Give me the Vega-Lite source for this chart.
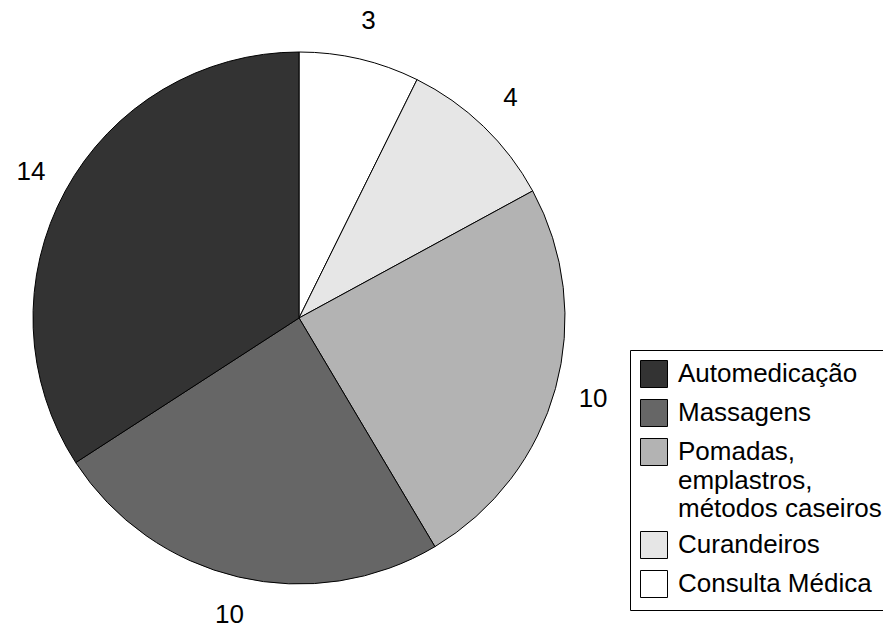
{
  "$schema": "https://vega.github.io/schema/vega-lite/v6.json",
  "autosize": {"type": "none"},
  "width": 598,
  "height": 636,
  "padding": {"left": 0, "top": 0, "right": 285, "bottom": 0},
  "background": "white",
  "config": {"view": {"stroke": null}, "font": "Liberation Sans"},
  "data": {
    "values": [
      {"cat": "Consulta Médica", "n": 3, "ord": 1},
      {"cat": "Curandeiros", "n": 4, "ord": 2},
      {"cat": "Pomadas, emplastros, métodos caseiros", "n": 10, "ord": 3},
      {"cat": "Massagens", "n": 10, "ord": 4},
      {"cat": "Automedicação", "n": 14, "ord": 5}
    ]
  },
  "encoding": {
    "theta": {"field": "n", "type": "quantitative", "stack": true},
    "order": {"field": "ord", "type": "quantitative"}
  },
  "layer": [
    {
      "mark": {"type": "arc", "radius": 266, "stroke": "black", "strokeWidth": 1},
      "encoding": {
        "color": {
          "field": "cat",
          "type": "nominal",
          "scale": {
            "domain": ["Automedicação", "Massagens", "Pomadas, emplastros, métodos caseiros", "Curandeiros", "Consulta Médica"],
            "range": ["#333333", "#666666", "#b3b3b3", "#e6e6e6", "#ffffff"]
          },
          "legend": {
            "title": null,
            "orient": "none",
            "legendX": 630,
            "legendY": 350,
            "padding": 10,
            "strokeColor": "black",
            "fillColor": "white",
            "symbolType": "square",
            "symbolSize": 729,
            "symbolStrokeColor": "black",
            "symbolStrokeWidth": 1,
            "labelFontSize": 26,
            "labelColor": "black",
            "labelOffset": 10,
            "labelLimit": 400,
            "rowPadding": 7,
            "labelExpr": "datum.label == 'Pomadas, emplastros, métodos caseiros' ? ['Pomadas,', 'emplastros,', 'métodos caseiros'] : datum.label",
            "encode": {"labels": {"update": {"lineHeight": {"value": 28.5}}}}
          }
        }
      }
    },
    {
      "mark": {"type": "text", "radius": 305, "fontSize": 26, "color": "black"},
      "encoding": {
        "text": {"field": "n", "type": "quantitative"}
      }
    }
  ]
}
